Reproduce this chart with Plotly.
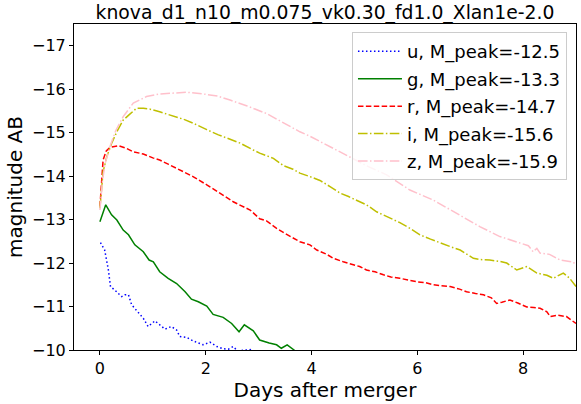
import plotly.graph_objects as go

# ---- data ----
t_u = [0.01, 0.09, 0.16, 0.2, 0.28, 0.41, 0.47, 0.54, 0.6, 0.72, 0.82, 0.91, 1.04, 1.13, 1.23, 1.35, 1.45, 1.51,
       1.64, 1.76, 1.95, 2.08, 2.21, 2.33, 2.43, 2.52, 2.6, 2.84, 2.9]
m_u = [-12.47, -12.3, -11.84, -11.46, -11.38, -11.23, -11.27, -11.27, -11.04, -10.88, -10.73, -10.54, -10.67, -10.58,
       -10.48, -10.54, -10.46, -10.31, -10.29, -10.21, -10.12, -10.18, -10.08, -10.03, -10.02, -10.08, -9.98, -10.01, -9.9]

t_g = [0, 0.11, 0.22, 0.32, 0.44, 0.54, 0.66, 0.82, 0.93, 1.01, 1.13, 1.29, 1.45, 1.61, 1.73, 1.86, 2.02, 2.14, 2.33,
       2.49, 2.63, 2.73, 2.9, 3.02, 3.2, 3.34, 3.43, 3.54, 3.67, 3.75]
m_g = [-12.95, -13.34, -13.11, -12.99, -12.76, -12.65, -12.42, -12.26, -12.07, -12.03, -11.8, -11.65, -11.53, -11.34,
       -11.17, -11.11, -11.01, -10.82, -10.75, -10.61, -10.42, -10.58, -10.44, -10.23, -10.16, -10.12, -10.04, -10.12,
       -10.0, -9.9]

t_r = [0, 0.06, 0.12, 0.19, 0.35, 0.5, 0.63, 0.82, 1.0, 1.13, 1.3, 1.45, 1.6, 1.76, 2.02, 2.27, 2.52, 2.84, 3.02, 3.15,
       3.34, 3.5, 3.65, 3.78, 3.97, 4.1, 4.29, 4.41, 4.6, 4.73, 4.91, 5.04, 5.2, 5.36, 5.5, 5.67, 5.85, 5.99, 6.15, 6.3,
       6.45, 6.62, 6.8, 6.93, 7.1, 7.25, 7.4, 7.5, 7.6, 7.75, 7.9, 8.07, 8.2, 8.32, 8.45, 8.51, 8.65, 8.82, 9.0]
m_r = [-13.3, -14.37, -14.58, -14.66, -14.7, -14.64, -14.56, -14.51, -14.42, -14.37, -14.27, -14.18, -14.08, -13.99,
       -13.8, -13.61, -13.41, -13.22, -13.02, -12.97, -12.8, -12.68, -12.57, -12.49, -12.42, -12.3, -12.2, -12.11,
       -12.03, -11.99, -11.92, -11.84, -11.8, -11.73, -11.68, -11.65, -11.6, -11.57, -11.55, -11.5, -11.48, -11.46,
       -11.4, -11.34, -11.3, -11.27, -11.2, -11.07, -11.1, -11.15, -11.08, -10.99, -10.98, -10.96, -10.88, -10.77,
       -10.8, -10.77, -10.61]

t_i = [0, 0.06, 0.13, 0.22, 0.32, 0.44, 0.56, 0.69, 0.82, 0.95, 1.13, 1.32, 1.45, 1.6, 1.76, 1.89, 2.02, 2.24, 2.52,
       2.65, 2.9, 3.02, 3.28, 3.47, 3.65, 3.78, 3.97, 4.16, 4.35, 4.54, 4.7, 4.85, 5.04, 5.23, 5.42, 5.67, 5.86, 6.05,
       6.25, 6.43, 6.62, 6.81, 7.06, 7.2, 7.37, 7.55, 7.69, 7.88, 7.98, 8.07, 8.26, 8.45, 8.57, 8.76, 8.88, 9.0]
m_i = [-13.26, -14.1, -14.45, -14.75, -15.02, -15.29, -15.42, -15.56, -15.56, -15.54, -15.48, -15.41, -15.37, -15.3,
       -15.22, -15.14, -15.07, -14.95, -14.83, -14.76, -14.6, -14.53, -14.41, -14.24, -14.16, -14.07, -13.99, -13.9,
       -13.76, -13.61, -13.53, -13.45, -13.34, -13.18, -13.07, -12.93, -12.8, -12.65, -12.55, -12.46, -12.38, -12.3,
       -12.11, -12.08, -12.07, -12.04, -12.0, -11.84, -11.88, -11.92, -11.77, -11.72, -11.65, -11.77, -11.65, -11.46]

t_z = [0, 0.05, 0.1, 0.19, 0.3, 0.44, 0.63, 0.88, 1.13, 1.45, 1.64, 1.95, 2.23, 2.46, 2.77, 3.15, 3.47, 3.78, 3.95,
       4.22, 4.45, 4.66, 5.04, 5.42, 5.86, 6.3, 6.74, 7.18, 7.56, 7.94, 8.1, 8.19, 8.26, 8.32, 8.5, 8.7, 8.95, 9.0]
m_z = [-13.22, -13.91, -14.3, -14.68, -15.05, -15.37, -15.68, -15.83, -15.89, -15.92, -15.93, -15.89, -15.84, -15.75,
       -15.62, -15.44, -15.23, -15.02, -14.93, -14.76, -14.62, -14.47, -14.24, -14.03, -13.68, -13.45, -13.15, -12.84,
       -12.61, -12.45, -12.40, -12.26, -12.34, -12.23, -12.2, -12.07, -12.02, -11.95]

labels = ["u, M_peak=-12.5", "g, M_peak=-13.3", "r, M_peak=-14.7", "i, M_peak=-15.6", "z, M_peak=-15.9"]
title = "knova_d1_n10_m0.075_vk0.30_fd1.0_Xlan1e-2.0"
x_ticks = [0, 2, 4, 6, 8]
y_ticks = [-17, -16, -15, -14, -13, -12, -11, -10]

series = [
    (t_u, m_u, "#0000FF", "1.5px,2.5px"),
    (t_g, m_g, "#008000", "solid"),
    (t_r, m_r, "#FF0000", "5.5px,2.4px"),
    (t_i, m_i, "#BFBF00", "9.6px,2.4px,1.5px,2.4px"),
    (t_z, m_z, "#FFC0CB", "9.6px,2.4px,1.5px,2.4px"),
]

FONT = "DejaVu Sans"
fig = go.Figure()
for k, ((tx, my, col, dash), lab) in enumerate(zip(series, labels)):
    fig.add_trace(go.Scatter(x=tx, y=my, mode="lines", name=lab, legendgroup=str(k),
                             line=dict(color=col, width=1.5, dash=dash)))

axis_common = dict(showline=True, linecolor="black", linewidth=1, mirror=True, ticks="outside",
                   ticklen=4, tickwidth=1, tickcolor="black", showgrid=False, zeroline=False,
                   tickfont=dict(family=FONT, size=16, color="black"))

fig.update_layout(
    width=581, height=404,
    margin=dict(l=74, r=5, t=24, b=54),
    paper_bgcolor="white", plot_bgcolor="white",
    title=dict(text=title, x=0.5, xref="paper", y=1 - 12 / 404, yref="container", yanchor="middle",
               font=dict(family=FONT, size=18.8, color="black")),
    xaxis=dict(range=[-0.49, 9.0], tickvals=x_ticks,
               title=dict(text="Days after merger", font=dict(family=FONT, size=20, color="black"), standoff=5),
               **axis_common),
    yaxis=dict(range=[-10, -17.5], tickvals=y_ticks,
               title=dict(text="magnitude AB", font=dict(family=FONT, size=20, color="black"), standoff=4),
               **axis_common),
    legend=dict(x=0.982, y=0.975, xanchor="right", yanchor="top", bgcolor="rgba(255,255,255,0.8)",
                bordercolor="#CCCCCC", borderwidth=1, tracegroupgap=1, itemwidth=44,
                font=dict(family=FONT, size=18, color="black")),
    showlegend=True,
)

fig.write_html("out.html")
